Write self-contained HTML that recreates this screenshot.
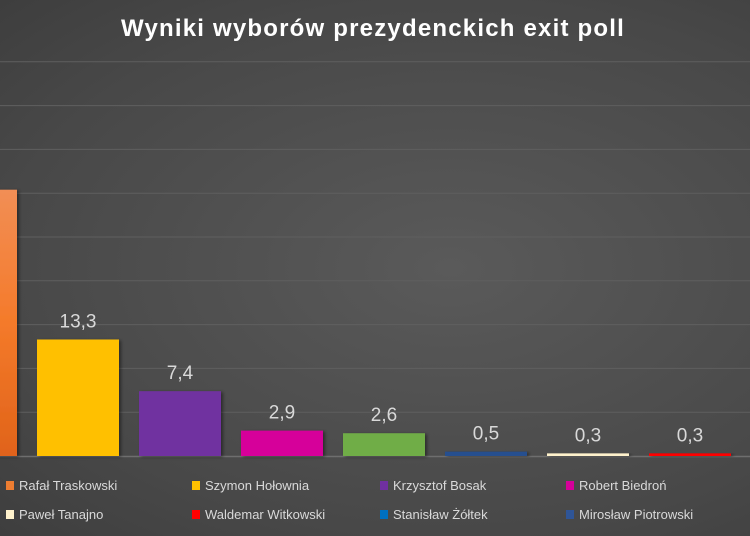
<!DOCTYPE html>
<html><head><meta charset="utf-8"><style>
html,body{margin:0;padding:0}
body{width:750px;height:536px;overflow:hidden;background:radial-gradient(ellipse at 60% 50%,#5a5a5a 0%,#484848 70%,#3e3e3e 100%);font-family:"Liberation Sans",sans-serif}
svg{display:block}
</style></head><body>
<svg id="chart" width="750" height="536" xmlns="http://www.w3.org/2000/svg">
<defs>
<linearGradient id="og" x1="0" y1="0" x2="0" y2="1"><stop offset="0" stop-color="#f28e55"/><stop offset="0.5" stop-color="#f47a2a"/><stop offset="1" stop-color="#e0631a"/></linearGradient>
<filter id="sh" x="-10%" y="-10%" width="130%" height="130%"><feDropShadow dx="2" dy="1" stdDeviation="1.5" flood-color="#000" flood-opacity="0.45"/></filter>
</defs>
<text x="373" y="36" text-anchor="middle" fill="#ffffff" font-size="24" font-weight="bold" letter-spacing="1.2">Wyniki wyborów prezydenckich exit poll</text>
<g id="grid"></g><g id="bars"></g><g id="labels"></g><g id="legend"></g>
</svg>
<script>
const candidates=["Rafał Traskowski","Szymon Hołownia","Krzysztof Bosak","Robert Biedroń","","","",""];
const values=[30.4,13.3,7.4,2.9,2.6,0.5,0.3,0.3];
const valueLabels=["30,4","13,3","7,4","2,9","2,6","0,5","0,3","0,3"];
const barColors=["url(#og)","#ffc000","#7030a0","#d6009a","#70ad47","#264f8f","#fff2cc","#ff0000"];
const gridTicks=[5,10,15,20,25,30,35,40,45];
const legendNames=["Rafał Traskowski","Szymon Hołownia","Krzysztof Bosak","Robert Biedroń","Paweł Tanajno","Waldemar Witkowski","Stanisław Żółtek","Mirosław Piotrowski"];
const legendColors=["#ed7d31","#ffc000","#7030a0","#d6009a","#fff2cc","#ff0000","#0070c0","#2f5597"];
const NS="http://www.w3.org/2000/svg";
const baseY=456, pxPerUnit=8.76;
const y=v=>baseY-v*pxPerUnit;
const x=i=>-65+i*102;
function mk(t,a,p){const e=document.createElementNS(NS,t);for(const k in a)e.setAttribute(k,a[k]);p.appendChild(e);return e;}
const grid=document.getElementById('grid');
gridTicks.forEach(t=>{const l=mk('line',{x1:0,x2:750,y1:y(t),y2:y(t),stroke:'#5f5f5f',"stroke-width":1},grid);

});
const ax=mk('line',{x1:0,x2:750,y1:baseY+0.5,y2:baseY+0.5,stroke:'#6e6e6e',"stroke-width":1.5},grid);


const bars=document.getElementById('bars'),labels=document.getElementById('labels');
values.forEach((v,i)=>{const h=Math.max(v*pxPerUnit,2.5);
const r=mk('rect',{x:x(i),y:baseY-h,width:82,height:h,fill:barColors[i],filter:'url(#sh)'},bars);


if(i>0){const t=mk('text',{x:x(i)+41,y:baseY-h-12,"text-anchor":"middle",fill:'#d9d9d9',"font-size":19},labels);t.textContent=valueLabels[i];

}
});
const lg=document.getElementById('legend');
const cols=[6,192,380,566],rows=[487,516];
legendNames.forEach((n,i)=>{const cx=cols[i%4],cy=rows[Math.floor(i/4)];
const g=mk('g',{},lg);


mk('rect',{x:cx,y:cy-6,width:8,height:9,fill:legendColors[i]},g);
const t=mk('text',{x:cx+13,y:cy+3,fill:'#d9d9d9',"font-size":13},g);t.textContent=n;});
</script>
</body></html>
